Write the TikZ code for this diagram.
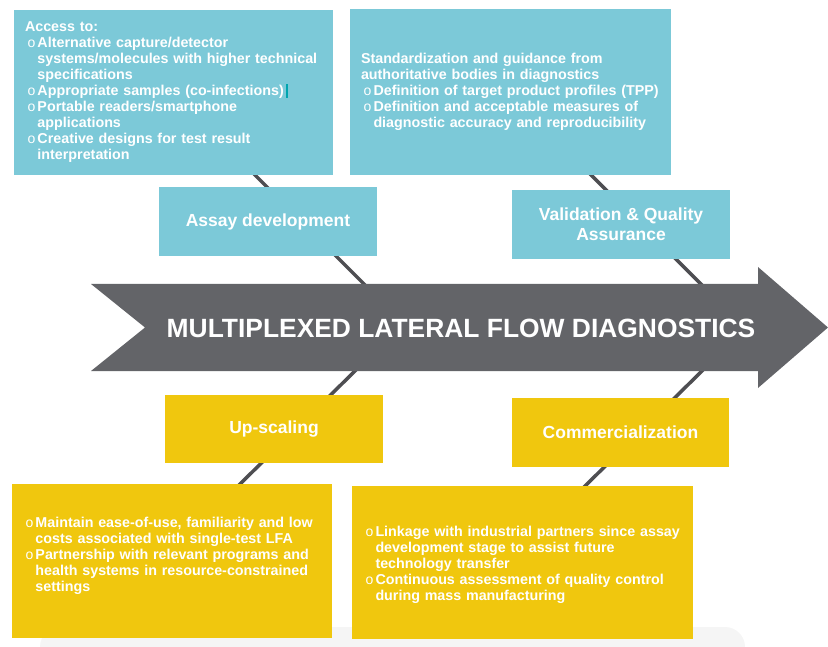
\documentclass[tikz,border=0pt]{standalone}
\usepackage{fontspec}
\setmainfont{Liberation Sans}
\usepackage{xcolor}

\definecolor{paneblue}{RGB}{124,201,216}
\definecolor{paneyellow}{RGB}{240,199,14}
\definecolor{spinegray}{RGB}{99,100,104}
\definecolor{bonegray}{RGB}{78,78,82}
\definecolor{cursorteal}{RGB}{0,165,175}

% hollow bullet item with hanging indent
\newcommand{\pitem}[1]{\par\hangindent=12.5pt\hangafter=1\noindent
  \makebox[12.5pt][l]{\hspace{2.5pt}{\mdseries\fontsize{14}{16}\selectfont o}}#1}

\begin{document}
\begin{tikzpicture}[
    x=1pt, y=-1pt,
    panel/.style={text=white, inner xsep=11pt, inner ysep=0pt,
        font=\bfseries\fontsize{14.3}{16}\selectfont\raggedright},
    tag/.style={text=white, align=center, inner sep=0pt,
        font=\bfseries\fontsize{17.5}{20}\selectfont},
    bone/.style={draw=bonegray, line width=3.5pt},
]

% Frame
\useasboundingbox (0,0) rectangle (828,647);

% Faint shadow under the bottom panels
\fill[black!4, rounded corners=20pt] (40,627) rectangle (745,680);

% Bones
\coordinate (boneA1) at (252,172);
\coordinate (boneA2) at (367,287);
\coordinate (boneB1) at (588,172);
\coordinate (boneB2) at (704,287);
\coordinate (boneC1) at (357,369);
\coordinate (boneC2) at (238,486);
\coordinate (boneD1) at (704,369);
\coordinate (boneD2) at (583,488);
\draw[bone] (boneA1) -- (boneA2);
\draw[bone] (boneB1) -- (boneB2);
\draw[bone] (boneC1) -- (boneC2);
\draw[bone] (boneD1) -- (boneD2);

% Spine arrow
\fill[spinegray] (91,284) -- (758,284) -- (758,267) -- (828,327.5)
    -- (758,388) -- (758,371) -- (91,371) -- (145,327.5) -- cycle;
\node[text=white, inner sep=0pt, font=\bfseries\fontsize{26.4}{30}\selectfont]
    (spine) at (461,328.8) {MULTIPLEXED LATERAL FLOW DIAGNOSTICS};

% Top panels
\node[panel, fill=paneblue, text width=297pt, minimum height=165pt] (access) at (173.5,92.5) {
    Access to:
    \pitem{Alternative capture/detector\newline systems/molecules with higher technical\newline specifications}
    \pitem{Appropriate samples (co-infections)\hspace{2pt}\textcolor{cursorteal}{\rule[-2pt]{2pt}{14pt}}}
    \pitem{Portable readers/smartphone\newline applications}
    \pitem{Creative designs for test result\newline interpretation}\par
};
\node[panel, fill=paneblue, text width=299pt, minimum height=166pt] (standard) at (510.5,92) {
    Standardization and guidance from\\authoritative bodies in diagnostics
    \pitem{Definition of target product profiles (TPP)}
    \pitem{Definition and acceptable measures of\newline diagnostic accuracy and reproducibility}\par
};

% Branch labels
\node[tag, fill=paneblue, minimum width=218pt, minimum height=69pt] (assay) at (268,221.5) {Assay development};
\node[tag, fill=paneblue, minimum width=218pt, minimum height=69pt] (valid) at (621,224.5) {Validation \& Quality\\Assurance};
\node[tag, fill=paneyellow, minimum width=218pt, minimum height=68pt] (upscale) at (274,429) {Up-scaling};
\node[tag, fill=paneyellow, minimum width=217pt, minimum height=69pt] (commerce) at (620.5,432.5) {Commercialization};

% Bottom panels
\node[panel, fill=paneyellow, text width=298pt, minimum height=154pt] (ease) at (172,561) {
    \pitem{Maintain ease-of-use, familiarity and low\newline costs associated with single-test LFA}
    \pitem{Partnership with relevant programs and\newline health systems in resource-constrained\newline settings}
    \par\kern15pt
};
\node[panel, fill=paneyellow, text width=319pt, minimum height=153pt] (linkage) at (522.5,562.5) {
    \pitem{Linkage with industrial partners since assay\newline development stage to assist future\newline technology transfer}
    \pitem{Continuous assessment of quality control\newline during mass manufacturing}\par
};

\end{tikzpicture}
\end{document}
